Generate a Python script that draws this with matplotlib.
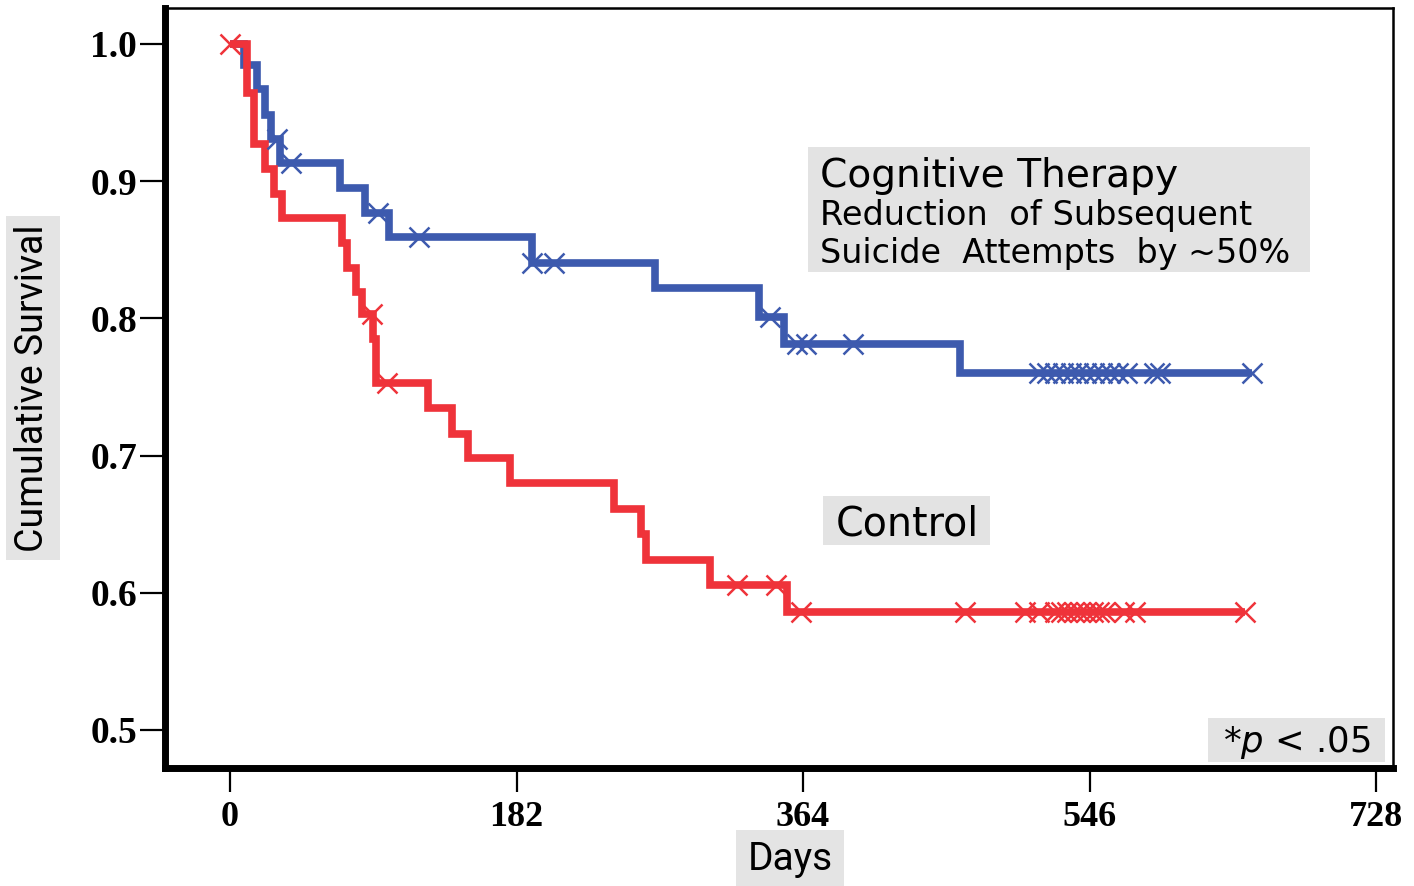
import matplotlib
matplotlib.use("Agg")
import matplotlib.pyplot as plt
from matplotlib.patches import Rectangle

# ---- data ----
ct_event_days = [9, 17, 22, 26, 32, 70, 86, 101, 192, 270, 336, 352, 464]
ct_event_surv = [0.985, 0.967, 0.948, 0.931, 0.913, 0.895, 0.877, 0.859, 0.840, 0.822, 0.801, 0.781, 0.760]
ct_end_day = 649
ct_cens_days = [30, 39, 94, 120, 192, 206, 343, 360, 366, 396,
                514, 519, 524, 529, 534, 539, 544, 549, 554, 559, 564, 570, 587, 591, 649]

ctl_event_days = [11, 15, 22, 28, 33, 71, 74, 80, 84, 91, 93, 126, 141, 151, 178, 244, 261, 264, 305, 354]
ctl_event_surv = [0.964, 0.927, 0.909, 0.891, 0.873, 0.855, 0.837, 0.819, 0.803, 0.785, 0.753,
                  0.735, 0.716, 0.698, 0.680, 0.661, 0.643, 0.624, 0.606, 0.586]
ctl_end_day = 645
ctl_cens_days = [0, 90, 100, 322, 347, 363, 467, 505, 514, 524, 528, 532, 536, 540, 544,
                 548, 552, 556, 568, 575, 645]

x_ticks = [0, 182, 364, 546, 728]
y_ticks = [0.5, 0.6, 0.7, 0.8, 0.9, 1.0]
y_tick_labels = ["0.5", "0.6", "0.7", "0.8", "0.9", "1.0"]

BLUE = "#3d5aae"
RED = "#ef333a"
BOXC = "#e3e3e3"
W, H = 1414, 886


def km_curve(days, surv, end):
    t = [0] + list(days) + [end]
    s = [1.0] + list(surv) + [surv[-1]]
    return t, s


def surv_at(t_list, s_list, d):
    val = 1.0
    for t, s in zip(t_list[1:-1], s_list[1:-1]):
        if d >= t:
            val = s
    return val


def fx(px):
    return px / W


def fy(py):
    return 1 - py / H


fig = plt.figure(figsize=(14.14, 8.86), dpi=100)
ax = fig.add_axes([fx(165), fy(768), (1393 - 165) / W, (768 - 8) / H])

for days, surv, end, cens, col in [
    (ct_event_days, ct_event_surv, ct_end_day, ct_cens_days, BLUE),
    (ctl_event_days, ctl_event_surv, ctl_end_day, ctl_cens_days, RED),
]:
    t, s = km_curve(days, surv, end)
    ax.step(t, s, where="post", color=col, lw=5.5, solid_joinstyle="miter",
            solid_capstyle="butt", zorder=3)
    cy = [surv_at(t, s, d) for d in cens]
    ax.plot(cens, cy, ls="none", marker="x", ms=15, mew=1.8, color=col, zorder=4)

ax.set_xlim(-41.3, 738.8)
ax.set_ylim(0.4723, 1.0262)

ax.set_xticks(x_ticks)
ax.set_xticklabels([str(v) for v in x_ticks], fontfamily="Liberation Serif",
                   fontweight="bold", fontsize=26)
ax.set_yticks(y_ticks)
ax.set_yticklabels(y_tick_labels, fontfamily="Liberation Serif",
                   fontweight="bold", fontsize=27)
ax.tick_params(axis="x", direction="out", length=17, width=1.6, pad=7)
ax.tick_params(axis="y", direction="out", length=18, width=1.6, pad=2)

for side in ["left", "bottom"]:
    ax.spines[side].set_linewidth(5)
for side in ["top", "right"]:
    ax.spines[side].set_linewidth(1.8)

narrow = ["Liberation Sans Narrow", "Roboto", "DejaVu Sans"]
fig.text(fx(33), fy(388), "Cumulative Survival", rotation=90,
         ha="center", va="center", fontsize=27, family=narrow,
         bbox=dict(facecolor="#e4e4e4", edgecolor="none", pad=6))
fig.text(fx(790), fy(860), "Days", ha="center", va="center",
         fontsize=28, family=narrow,
         bbox=dict(facecolor="#e4e4e4", edgecolor="none", pad=8))


def box(x0, y0, x1, y1):
    fig.patches.append(Rectangle((fx(x0), fy(y1)), (x1 - x0) / W, (y1 - y0) / H,
                                 transform=fig.transFigure, facecolor=BOXC,
                                 edgecolor="none", zorder=1))


# annotation boxes
box(808, 147, 1310, 272)
fig.text(fx(820), fy(187), "Cognitive Therapy", ha="left", va="baseline",
         fontsize=28.2, family="DejaVu Sans", zorder=5)
fig.text(fx(820), fy(225), "Reduction  of Subsequent", ha="left", va="baseline",
         fontsize=24.2, family="DejaVu Sans", zorder=5)
fig.text(fx(820), fy(263), "Suicide  Attempts  by ~50%", ha="left", va="baseline",
         fontsize=24, family="DejaVu Sans", zorder=5)

box(823, 496, 990, 545)
fig.text(fx(907), fy(535), "Control", ha="center", va="baseline",
         fontsize=28.5, family="DejaVu Sans", zorder=5)

plt.rcParams["mathtext.fontset"] = "dejavusans"
box(1208, 718, 1385, 762)
fig.text(fx(1297), fy(752), r"*$p$ < .05", ha="center", va="baseline",
         fontsize=25.5, family="DejaVu Sans", zorder=5)

fig.savefig("out.png", dpi=100)
